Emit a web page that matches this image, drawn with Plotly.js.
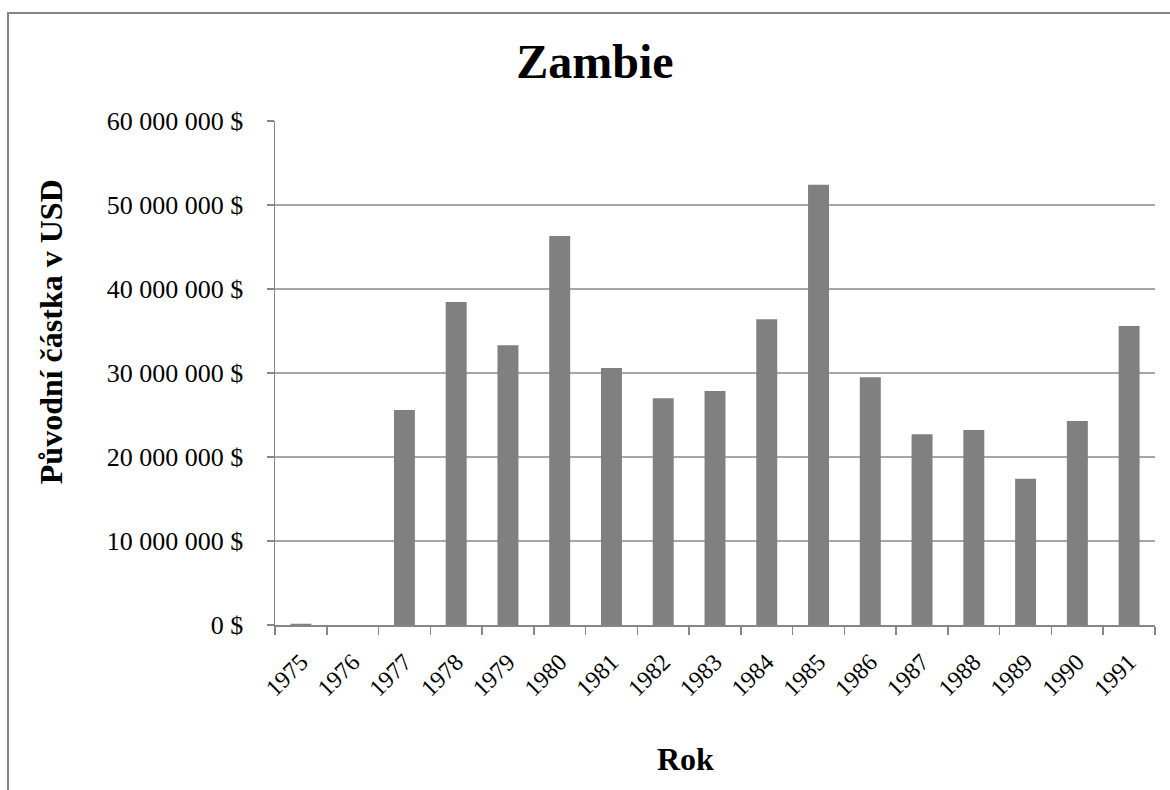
<!DOCTYPE html>
<html>
<head>
<meta charset="utf-8">
<script src="https://cdn.plot.ly/plotly-3.0.1.min.js"></script>
<style>
  html, body { margin: 0; padding: 0; background: #fff; }
  #wrap { position: relative; width: 1170px; height: 790px; overflow: hidden; }
  #frame { position: absolute; left: 7px; top: 12px; width: 1200px; height: 820px; border: 2px solid #868686; box-sizing: border-box; pointer-events: none; z-index: 5; }
  #chart { position: absolute; left: 0; top: 0; width: 1170px; height: 790px; }
</style>
</head>
<body>
<div id="wrap">
  <div id="chart"></div>
  <div id="frame"></div>
</div>
<script>
const years = ["1975","1976","1977","1978","1979","1980","1981","1982","1983","1984","1985","1986","1987","1988","1989","1990","1991"];
const amounts = [150000, 0, 25600000, 38450000, 33300000, 46300000, 30600000, 27000000, 27860000, 36400000, 52400000, 29500000, 22700000, 23200000, 17400000, 24300000, 35600000];
const yTickVals = [0, 10000000, 20000000, 30000000, 40000000, 50000000, 60000000];
const yTickText = ["0 $", "10 000 000 $", "20 000 000 $", "30 000 000 $", "40 000 000 $", "50 000 000 $", "60 000 000 $"];

const font = "Liberation Serif, Times New Roman, serif";

const trace = {
  type: "bar",
  x: years,
  y: amounts,
  marker: { color: "#808080" },
  hoverinfo: "x+y"
};

const layout = {
  width: 1170,
  height: 790,
  margin: { l: 275, r: 15, t: 121, b: 165 },
  paper_bgcolor: "#ffffff",
  plot_bgcolor: "#ffffff",
  bargap: 0.595,
  showlegend: false,
  font: { family: font, color: "#000", size: 22 },
  title: {
    text: "<b>Zambie</b>",
    font: { family: font, size: 48, color: "#000" },
    x: 0.5085, xanchor: "center",
    y: 0.9228, yanchor: "middle"
  },
  xaxis: {
    type: "category",
    tickson: "boundaries",
    ticks: "outside",
    ticklen: 8,
    tickwidth: 1.5,
    tickcolor: "#868686",
    showline: true,
    linecolor: "#868686",
    linewidth: 1.5,
    showgrid: false,
    tickangle: -45,
    ticklabelstandoff: 12,
    tickfont: { family: font, size: 24, color: "#000" },
    fixedrange: true
  },
  yaxis: {
    range: [0, 60000000],
    tickvals: yTickVals,
    ticktext: yTickText,
    ticks: "outside",
    ticklen: 7,
    tickwidth: 1.5,
    tickcolor: "#868686",
    showline: true,
    linecolor: "#868686",
    linewidth: 1.5,
    showgrid: true,
    gridcolor: "#a6a6a6",
    gridwidth: 1.5,
    zeroline: false,
    ticklabelstandoff: 18,
    tickfont: { family: font, size: 26, color: "#000" },
    fixedrange: true
  },
  annotations: [
    {
      text: "<b>Původní částka v USD</b>",
      xref: "paper", yref: "paper",
      x: -0.2545, y: 0.581,
      xanchor: "center", yanchor: "middle",
      textangle: -90,
      showarrow: false,
      font: { family: font, size: 32, color: "#000" }
    },
    {
      text: "<b>Rok</b>",
      xref: "paper", yref: "paper",
      x: 0.467, y: -0.266,
      xanchor: "center", yanchor: "middle",
      showarrow: false,
      font: { family: font, size: 32, color: "#000" }
    }
  ]
};

Plotly.newPlot("chart", [trace], layout, { displayModeBar: false, staticPlot: true });
</script>
</body>
</html>
